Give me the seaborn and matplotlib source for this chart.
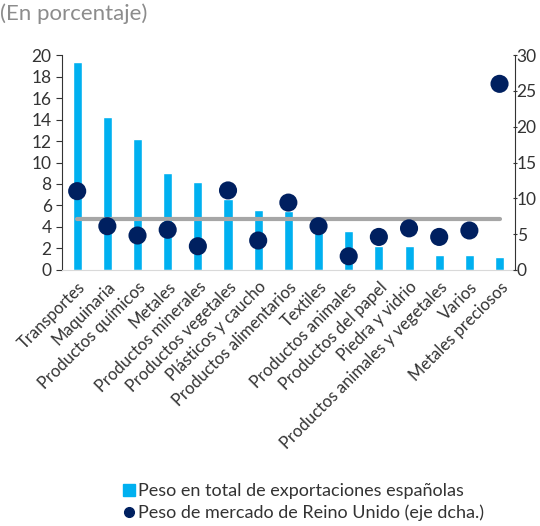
import numpy as np
import pandas as pd
import matplotlib
matplotlib.use("Agg")
import matplotlib.pyplot as plt
from matplotlib.lines import Line2D
import seaborn as sns

# datos
categorias = ["Transportes", "Maquinaria", "Productos químicos", "Metales",
              "Productos minerales", "Productos vegetales", "Plásticos y caucho",
              "Productos alimentarios", "Textiles", "Productos animales",
              "Productos del papel", "Piedra y vidrio",
              "Productos animales y vegetales", "Varios", "Metales preciosos"]
peso_export = [19.4, 14.2, 12.2, 9.0, 8.2, 6.6, 5.6, 5.5, 4.2, 3.6,
               2.2, 2.2, 1.4, 1.4, 1.2]
peso_uk = [11.0, 6.1, 4.8, 5.6, 3.3, 11.1, 4.1, 9.4, 6.1, 1.9,
           4.6, 5.8, 4.6, 5.5, 26.0]
media_uk = 7.1

df = pd.DataFrame({"cat": categorias, "export": peso_export, "uk": peso_uk})
df["pos"] = np.arange(len(df))

sns.set_style("white")
plt.rcParams["font.family"] = ["Lato", "DejaVu Sans"]

azul = "#00b0f0"
marino = "#002060"
gris = "#a6a6a6"
texto = "#333333"

fig = plt.figure(figsize=(5.4, 5.26), dpi=100)
ax = fig.add_axes([0.115, 0.487, 0.838, 0.408])

sns.barplot(data=df, x="pos", y="export", color=azul, width=0.3,
            saturation=1, ax=ax, native_scale=True)
ax.set_xlim(-0.5, len(df) - 0.5)
ax.set_ylim(0, 20)
ax.set_yticks(range(0, 21, 2))

ax2 = ax.twinx()
ax2.plot([0, len(df) - 1], [media_uk, media_uk], color=gris, lw=3, zorder=1)
sns.scatterplot(data=df, x="pos", y="uk", color=marino, s=170,
                edgecolor="none", ax=ax2, zorder=3)
ax2.set_ylim(0, 30)
ax2.set_yticks(range(0, 31, 5))

ax.set_xticks(df["pos"])
ax.set_xticklabels(df["cat"], rotation=45, ha="right",
                   rotation_mode="anchor", fontsize=12, color=texto)
ax.set_xlabel("")
ax.set_ylabel("")
ax2.set_ylabel("")
ax2.set_xlabel("")

for a in (ax, ax2):
    for s in a.spines.values():
        s.set_visible(False)
ax.spines["left"].set_visible(True)
ax.spines["left"].set_color(texto)
ax2.spines["right"].set_visible(True)
ax2.spines["right"].set_color(texto)
ax.spines["bottom"].set_visible(True)
ax.spines["bottom"].set_color("#d9d9d9")

ax.tick_params(axis="y", left=True, length=4, color=texto,
               labelsize=12.5, labelcolor=texto)
ax.tick_params(axis="x", bottom=False, pad=3)
ax2.tick_params(axis="y", right=True, length=3, direction="inout",
                color=texto, labelsize=12.5, labelcolor=texto, pad=0)

fig.text(0.0, 0.962, "(En porcentaje)", fontsize=16, color="#8c8c8c")

handles = [
    Line2D([], [], marker="s", color=azul, ls="none", markersize=8),
    Line2D([], [], marker="o", color=marino, ls="none", markersize=7),
]
fig.legend(handles, ["Peso en total de exportaciones españolas",
                     "Peso de mercado de Reino Unido (eje dcha.)"],
           loc="lower left", bbox_to_anchor=(0.195, -0.022), frameon=False,
           fontsize=13, handletextpad=0.1, labelspacing=0.3,
           handlelength=0.8, labelcolor=texto)

fig.savefig("out.png", dpi=100)
